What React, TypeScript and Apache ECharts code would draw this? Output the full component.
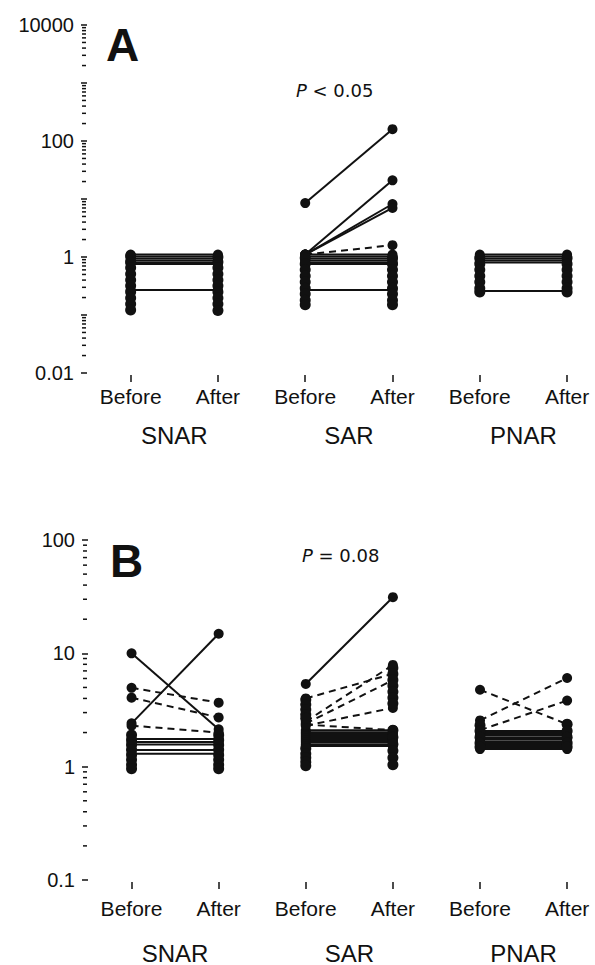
import React, { useEffect, useRef } from "react";
import * as echarts from "echarts";

// ---- categories / labels ----
const xCategories = ["Before", "After", "Before", "After", "Before", "After"];
const groupNames = ["SNAR", "SAR", "PNAR"];
const yLabelsA = ["0.01", "1", "100", "10000"];
const yLabelsB = ["0.1", "1", "10", "100"];
const panelLetters = ["A", "B"];
const pTexts = ["P < 0.05", "P = 0.08"];

// ---- Panel A: pairs [before, after] ----
const aSnarSolid = [[1.1, 1.1], [1.02, 1.02], [0.94, 0.94], [0.87, 0.87], [0.8, 0.8], [0.76, 0.76], [0.27, 0.27]];
const aSnarDashed: number[][] = [];
const aSnarBefore = [1.04, 0.82, 0.65, 0.51, 0.4, 0.32, 0.25, 0.196, 0.155, 0.122];
const aSnarAfter = [1.0, 0.82, 0.65, 0.51, 0.4, 0.32, 0.25, 0.196, 0.155, 0.12];

const aSarSolid = [[8.5, 160], [1.1, 21], [1.1, 8.2], [1.1, 7], [1.1, 1.1], [1.02, 1.02], [0.94, 0.94], [0.87, 0.87], [0.8, 0.8], [0.76, 0.76], [0.27, 0.27]];
const aSarDashed = [[1.1, 1.6]];
const aSarBefore = [0.96, 0.76, 0.6, 0.47, 0.37, 0.29, 0.23, 0.18, 0.15];
const aSarAfter = [0.96, 0.76, 0.6, 0.47, 0.37, 0.29, 0.23, 0.18, 0.15];

const aPnarSolid = [[1.1, 1.1], [1.02, 1.02], [0.94, 0.94], [0.87, 0.87], [0.8, 0.8], [0.26, 0.26]];
const aPnarDashed: number[][] = [];
const aPnarBefore = [0.96, 0.76, 0.6, 0.47, 0.37, 0.29, 0.25];
const aPnarAfter = [0.96, 0.76, 0.6, 0.47, 0.37, 0.29, 0.25];

// ---- Panel B: pairs [before, after] ----
const bSnarSolid = [[10, 2.14], [2.41, 14.9], [1.75, 1.75], [1.65, 1.65], [1.57, 1.57], [1.4, 1.4], [1.3, 1.3]];
const bSnarDashed = [[4.96, 3.67], [4.06, 2.72], [2.3, 2.0]];
const bSnarBefore = [1.9, 1.72, 1.55, 1.41, 1.27, 1.15, 1.04, 0.96];
const bSnarAfter = [1.9, 1.72, 1.55, 1.41, 1.27, 1.15, 1.04, 0.96];

const bSarSolid = [[5.37, 31.3], [2.1, 2.1], [2.01, 2.01], [1.94, 1.94], [1.86, 1.86], [1.79, 1.79], [1.72, 1.72], [1.65, 1.65], [1.58, 1.58], [1.52, 1.52]];
const bSarDashed = [[4.0, 6.6], [2.5, 7.9], [2.4, 5.8], [2.3, 3.3], [2.35, 2.1]];
const bSarBefore = [3.9, 3.53, 3.19, 2.89, 2.67, 1.45, 1.3, 1.2, 1.1, 1.02];
const bSarAfter = [7.43, 6.56, 5.82, 5.17, 4.58, 4.06, 3.6, 2.1, 1.82, 1.58, 1.38, 1.2, 1.04];

const bPnarSolid = [[2.06, 2.06], [1.98, 1.98], [1.9, 1.9], [1.82, 1.82], [1.75, 1.75], [1.68, 1.68], [1.62, 1.62], [1.55, 1.55], [1.49, 1.49], [1.43, 1.43]];
const bPnarDashed = [[4.77, 2.37], [2.56, 6.06], [2.1, 3.83]];
const bPnarBefore = [2.32, 2.06, 1.82, 1.62, 1.49];
const bPnarAfter = [2.37, 2.06, 1.82, 1.62, 1.49];

const INK = "#111";
const FONT = "'Liberation Sans', Arial, Helvetica, sans-serif";

function buildGroupSeries(panel: number, group: number, solid: number[][], dashed: number[][], before: number[], after: number[]) {
  const xb = group * 2 + 1;
  const xa = group * 2 + 2;
  const out: any[] = [];
  const line = (p: number[], type: any) => ({
    type: "line",
    xAxisIndex: panel * 2,
    yAxisIndex: panel,
    data: [[xb, p[0]], [xa, p[1]]],
    symbol: "circle",
    symbolSize: 10,
    showSymbol: true,
    itemStyle: { color: INK, opacity: 1 },
    lineStyle: { color: INK, width: 2, type, opacity: 1 },
    silent: true,
    z: 3,
  });
  solid.forEach((p) => out.push(line(p, "solid")));
  dashed.forEach((p) => out.push(line(p, [7, 5])));
  out.push({
    type: "scatter",
    xAxisIndex: panel * 2,
    yAxisIndex: panel,
    data: [...before.map((v) => [xb, v]), ...after.map((v) => [xa, v])],
    symbol: "circle",
    symbolSize: 11,
    itemStyle: { color: INK, opacity: 1 },
    silent: true,
    z: 4,
  });
  return out;
}

function minorTicks(lo: number, hi: number) {
  const res: number[][] = [];
  for (let e = Math.round(Math.log10(lo)); e < Math.round(Math.log10(hi)); e++) {
    for (let m = 2; m <= 9; m++) res.push([0.5, m * Math.pow(10, e)]);
  }
  return res;
}

function labelFmt(allowed: string[]) {
  return (v: number) => {
    const s = String(Number(v.toPrecision(6)));
    return allowed.indexOf(s) >= 0 ? s : "";
  };
}

export default function App() {
  const ref = useRef<HTMLDivElement>(null);
  useEffect(() => {
    document.body.style.margin = "0";
    if (!ref.current) return;
    const chart = echarts.init(ref.current, undefined, { renderer: "svg" });

    const xMax = 6.32;
    const grids = [
      { left: 87, top: 25, width: 509, height: 348 },
      { left: 88, top: 540, width: 508, height: 347 },
    ];
    const yRanges = [
      [0.01, 10000],
      [0.1, 100],
    ];
    const yLabels = [yLabelsA, yLabelsB];
    const catMargin = [11, 16];
    const groupMargin = [48, 59];

    const xAxes: any[] = [];
    const yAxes: any[] = [];
    [0, 1].forEach((p) => {
      xAxes.push({
        type: "value",
        gridIndex: p,
        position: "bottom",
        min: 0.5,
        max: xMax,
        offset: 2,
        axisLine: { show: false },
        splitLine: { show: false },
        axisTick: { show: true, customValues: [1, 2, 3, 4, 5, 6], length: 7, lineStyle: { color: INK, width: 1.5 } },
        axisLabel: {
          customValues: [1, 2, 3, 4, 5, 6],
          formatter: (v: number) => xCategories[Math.round(v) - 1] || "",
          color: INK,
          fontFamily: FONT,
          fontSize: 21,
          margin: catMargin[p],
        },
      });
      xAxes.push({
        type: "value",
        gridIndex: p,
        position: "bottom",
        min: 0.5,
        max: xMax,
        offset: 2,
        axisLine: { show: false },
        splitLine: { show: false },
        axisTick: { show: false },
        axisLabel: {
          customValues: [1.5, 3.5, 5.5],
          formatter: (v: number) => groupNames[Math.round((v - 1.5) / 2)] || "",
          color: INK,
          fontFamily: FONT,
          fontSize: 24,
          margin: groupMargin[p],
        },
      });
      yAxes.push({
        type: "log",
        logBase: 10,
        gridIndex: p,
        min: yRanges[p][0],
        max: yRanges[p][1],
        axisLine: { show: false },
        splitLine: { show: false },
        axisTick: { show: true, length: 6, lineStyle: { color: INK, width: 1.5 } },
        axisLabel: {
          formatter: labelFmt(yLabels[p]),
          color: INK,
          fontFamily: FONT,
          fontSize: 20,
          margin: 13,
        },
      });
    });

    const series: any[] = [
      ...buildGroupSeries(0, 0, aSnarSolid, aSnarDashed, aSnarBefore, aSnarAfter),
      ...buildGroupSeries(0, 1, aSarSolid, aSarDashed, aSarBefore, aSarAfter),
      ...buildGroupSeries(0, 2, aPnarSolid, aPnarDashed, aPnarBefore, aPnarAfter),
      ...buildGroupSeries(1, 0, bSnarSolid, bSnarDashed, bSnarBefore, bSnarAfter),
      ...buildGroupSeries(1, 1, bSarSolid, bSarDashed, bSarBefore, bSarAfter),
      ...buildGroupSeries(1, 2, bPnarSolid, bPnarDashed, bPnarBefore, bPnarAfter),
    ];
    [0, 1].forEach((p) => {
      series.push({
        type: "custom",
        xAxisIndex: p * 2,
        yAxisIndex: p,
        data: minorTicks(yRanges[p][0], yRanges[p][1]),
        encode: { x: 0, y: 1 },
        silent: true,
        clip: false,
        renderItem: (_params: any, api: any) => {
          const pt = api.coord([api.value(0), api.value(1)]);
          return {
            type: "line",
            shape: { x1: pt[0] - 5, y1: pt[1], x2: pt[0] - 1, y2: pt[1] },
            style: { stroke: INK, lineWidth: 1.5 },
          };
        },
      });
    });

    const pStyle = (t: string) => ({
      text: "{i|P}" + t.slice(1),
      font: `18px 'DejaVu Sans', ${FONT}`,
      fill: INK,
      rich: { i: { fontStyle: "italic", fontSize: 18, fontFamily: "'DejaVu Sans'" } },
    });

    const graphic: any[] = [
      { type: "text", left: 106, top: 22, style: { text: panelLetters[0], font: `bold 46px ${FONT}`, fill: INK } },
      { type: "text", left: 110, top: 538, style: { text: panelLetters[1], font: `bold 46px ${FONT}`, fill: INK } },
      { type: "text", left: 296, top: 81, style: pStyle(pTexts[0]) },
      { type: "text", left: 302, top: 546, style: pStyle(pTexts[1]) },
    ];

    chart.setOption({
      animation: false,
      backgroundColor: "#fff",
      grid: grids,
      xAxis: xAxes,
      yAxis: yAxes,
      series,
      graphic,
    });
    return () => chart.dispose();
  }, []);
  return <div ref={ref} style={{ width: 595, height: 965 }} />;
}
